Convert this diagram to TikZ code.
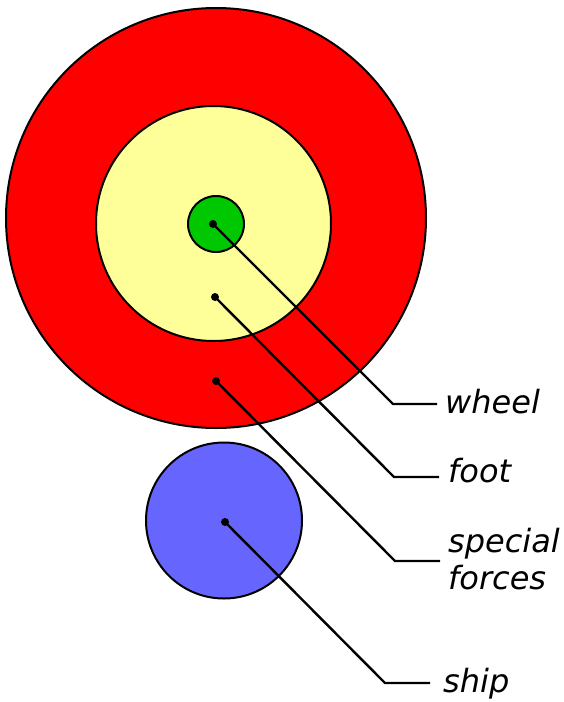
\documentclass[tikz,border=0pt]{standalone}
\usepackage{fontspec}
\setmainfont{DejaVu Sans}
\definecolor{cred}{RGB}{255,0,0}
\definecolor{cyellow}{RGB}{255,255,153}
\definecolor{cgreen}{RGB}{0,200,0}
\definecolor{cblue}{RGB}{102,102,255}
\tikzset{
  ring/.style={draw=black, line width=2pt},
  dotmark/.style={circle, fill=black, inner sep=0pt, minimum size=8pt},
  leader/.style={draw=black, line width=2.4pt},
  lbl/.style={anchor=base west, inner sep=0pt, font=\fontsize{32}{37}\selectfont\itshape, align=left}
}
\begin{document}
\begin{tikzpicture}[x=1pt,y=-1pt]
\useasboundingbox (0,0) rectangle (564,702);
% circles
\node[ring, circle, fill=cred, minimum size=420pt, inner sep=0pt] (red) at (216,218) {};
\node[ring, circle, fill=cyellow, minimum size=235pt, inner sep=0pt] (yellow) at (213.5,223.5) {};
\node[ring, circle, fill=cgreen, minimum size=56pt, inner sep=0pt] (green) at (216,224) {};
\node[ring, circle, fill=cblue, minimum size=156pt, inner sep=0pt] (blue) at (224,520.5) {};
% dots
\node[dotmark] (dg) at (213,224) {};
\node[dotmark] (dy) at (215,297) {};
\node[dotmark] (dr) at (216,381) {};
\node[dotmark] (db) at (225,522) {};
% bends and ends
\coordinate (bw) at (393,404); \coordinate (ew) at (437,404);
\coordinate (bf) at (394,477); \coordinate (ef) at (439,477);
\coordinate (bs) at (395,561); \coordinate (es) at (440,561);
\coordinate (bb) at (385,683); \coordinate (eb) at (430,683);
\draw[leader] (dg.center) -- (bw) -- (ew);
\draw[leader] (dy.center) -- (bf) -- (ef);
\draw[leader] (dr.center) -- (bs) -- (es);
\draw[leader] (db.center) -- (bb) -- (eb);
% labels
\node[lbl] (lw) at (445,413) {wheel};
\node[lbl] (lf) at (448,482) {foot};
\node[lbl] (ls) at (448,589) {special\\forces};
\node[lbl] (lb) at (443,692) {ship};
\end{tikzpicture}
\end{document}
